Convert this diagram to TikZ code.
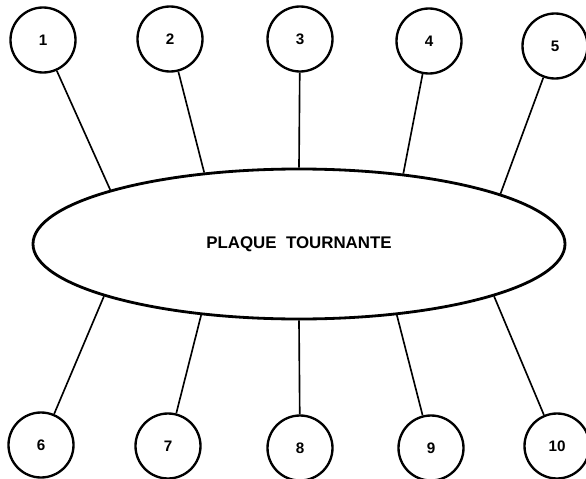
\documentclass[tikz,border=0pt]{standalone}
\usepackage{fontspec}
\setsansfont{Liberation Sans}
\usetikzlibrary{shapes.geometric}

\begin{document}
\begin{tikzpicture}[x=0.03cm,y=-0.03cm,
  poste/.style={circle,draw,line width=2pt,minimum size=1.95cm,inner sep=0pt,font=\sffamily\bfseries\fontsize{13}{15}\selectfont},
  lien/.style={line width=1.4pt}]
\useasboundingbox (0,0) rectangle (586,479);
\node[ellipse,draw,line width=2.4pt,minimum width=15.96cm,minimum height=4.5cm,inner sep=0pt,font=\sffamily\bfseries\fontsize{14.4}{16}\selectfont] (plaque) at (299,244) {PLAQUE\ \ TOURNANTE};
% postes du haut
\foreach \n/\x/\y in {1/43/40,2/170/39,3/300/39,4/429/41,5/555/46}
  \node[poste] (c\n) at (\x,\y) {\n};
% postes du bas
\foreach \n/\x/\y in {6/41/445,7/168/446,8/300/448,9/431/448,10/557/446}
  \node[poste] (c\n) at (\x,\y) {\n};
% liaisons vers la plaque
\foreach \n/\a in {1/164.9,2/143.9,3/90,4/34.8,5/14,6/195.1,7/216.1,8/270,9/324.3,10/345}
  \draw[lien] (c\n) -- (plaque.\a);
\end{tikzpicture}
\end{document}
